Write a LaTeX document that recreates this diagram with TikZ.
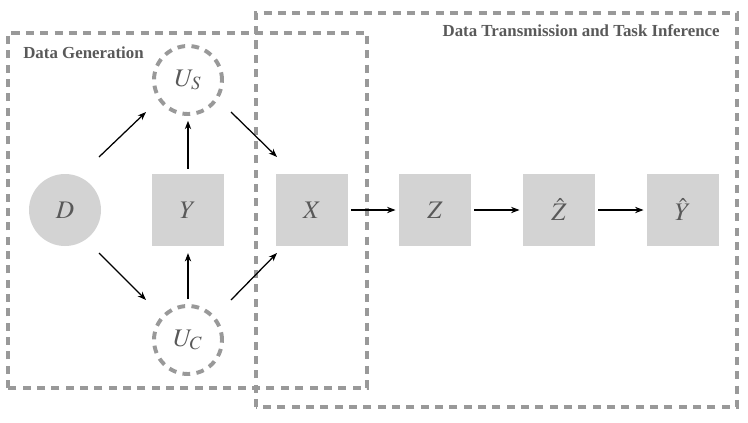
\documentclass[tikz,border=0pt]{standalone}
\usetikzlibrary{arrows.meta}
\usepackage{mathptmx}
\usepackage{fontspec}
\setmainfont{Liberation Serif}
\definecolor{boxfill}{HTML}{D3D3D3}
\definecolor{dashgray}{HTML}{999999}
\definecolor{labelgray}{HTML}{595959}

\begin{document}
\begin{tikzpicture}[x=1cm, y=1cm, >={Stealth[length=6pt, width=4.5pt]},
    varbox/.style={fill=boxfill, minimum size=1.8cm, inner sep=0pt,
      text=labelgray, font=\fontsize{18}{20}\selectfont},
    varcircle/.style={varbox, circle},
    latent/.style={circle, draw=dashgray, line width=2.8pt,
      dash pattern=on 5.5pt off 4.5pt, minimum size=1.7cm, inner sep=0pt,
      text=labelgray, font=\fontsize{18}{20}\selectfont},
    stagebox/.style={draw=dashgray, line width=2.8pt, dash pattern=on 5.7pt off 4.5pt},
    stagelabel/.style={font=\bfseries\fontsize{12}{14}\selectfont, text=labelgray, inner sep=0pt},
    link/.style={->, line width=0.9pt}]

  \useasboundingbox (0, 0) rectangle (18.7, 10.55);

  % Stage frames
  \draw[stagebox] (0.2, 0.85) rectangle (9.175, 9.725);
  \draw[stagebox] (6.4, 0.375) rectangle (18.425, 10.225);
  \node[stagelabel, anchor=west] (genlabel) at (0.575, 9.22) {Data Generation};
  \node[stagelabel, anchor=east] (translabel) at (18.0, 9.78) {Data Transmission and Task Inference};

  % Variables
  \node[varcircle] (D) at (1.625, 5.3) {$D$};
  \node[varbox] (Y) at (4.7, 5.3) {$Y$};
  \node[latent] (US) at (4.7, 8.55) {$U_S$};
  \node[latent] (UC) at (4.7, 2.05) {$U_C$};
  \node[varbox] (X) at (7.8, 5.3) {$X$};
  \node[varbox] (Z) at (10.875, 5.3) {$Z$};
  \node[varbox] (Zhat) at (13.975, 5.3) {$\hat{Z}$};
  \node[varbox] (Yhat) at (17.075, 5.3) {$\hat{Y}$};

  % Generation arrows
  \draw[link] ([shift={(0.85, 1.325)}]D.center) -- ([shift={(-1.05, -0.8)}]US.center);
  \draw[link] ([shift={(0.85, -1.075)}]D.center) -- ([shift={(-1.05, 1.0)}]UC.center);
  \draw[link, shorten <=0.12cm, shorten >=0.12cm] (Y) -- (US);
  \draw[link, shorten <=0.12cm, shorten >=0.17cm] (UC) -- (Y);
  \draw[link] ([shift={(1.075, -0.8)}]US.center) -- ([shift={(-0.875, 1.325)}]X.center);
  \draw[link] ([shift={(1.075, 1.0)}]UC.center) -- ([shift={(-0.875, -1.075)}]X.center);

  % Transmission and inference chain
  \draw[link, shorten <=0.08cm, shorten >=0.08cm] (X) -- (Z);
  \draw[link, shorten <=0.08cm, shorten >=0.08cm] (Z) -- (Zhat);
  \draw[link, shorten <=0.08cm, shorten >=0.08cm] (Zhat) -- (Yhat);

\end{tikzpicture}
\end{document}
